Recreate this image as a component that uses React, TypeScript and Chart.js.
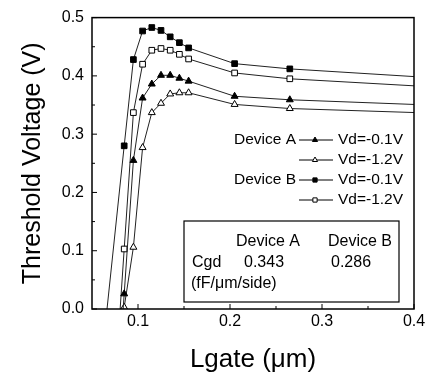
import React, { useEffect, useRef } from 'react';
import { Chart, registerables } from 'chart.js';

Chart.register(...registerables);

// ---- data ----
const lgateUm = [0.085, 0.095, 0.105, 0.115, 0.125, 0.135, 0.145, 0.155, 0.205, 0.265];
const vtA_Vd01 = [0.026, 0.255, 0.362, 0.386, 0.401, 0.401, 0.396, 0.391, 0.365, 0.359];
const vtA_Vd12 = [0.003, 0.106, 0.277, 0.337, 0.353, 0.369, 0.371, 0.371, 0.351, 0.344];
const vtB_Vd01 = [0.28, 0.428, 0.477, 0.483, 0.478, 0.467, 0.457, 0.448, 0.421, 0.412];
const vtB_Vd12 = [0.103, 0.337, 0.42, 0.444, 0.447, 0.444, 0.437, 0.429, 0.405, 0.395];

// lines continue beyond the frame on both ends (estimated, off-scale)
const leadLgate = [0.075, 0.075, 0.065, 0.075];
const leadVt = [-0.2, -0.1, -0.02, -0.13];
const tailLgate = [0.5, 0.5, 0.5, 0.5];
const tailVt = [0.345, 0.332, 0.389, 0.374];

const seriesNames = ['Device A Vd=-0.1V', 'Device A Vd=-1.2V', 'Device B Vd=-0.1V', 'Device B Vd=-1.2V'];
const legendGroups = ['Device A', '', 'Device B', ''];
const legendVd = ['Vd=-0.1V', 'Vd=-1.2V', 'Vd=-0.1V', 'Vd=-1.2V'];

const tableHeader = ['Device A', 'Device B'];
const tableRowLabel = 'Cgd';
const tableValues = ['0.343', '0.286'];
const tableUnit = '(fF/\u03bcm/side)';

const xMajor = [0.1, 0.2, 0.3, 0.4];
const xMinor = [0.15, 0.25, 0.35];
const yMajor = [0, 0.1, 0.2, 0.3, 0.4, 0.5];
const yMinor = [0.05, 0.15, 0.25, 0.35, 0.45];

const FONT = '"Liberation Sans", Arial, sans-serif';

const seriesValues = [vtA_Vd01, vtA_Vd12, vtB_Vd01, vtB_Vd12];
const markerStyles = [
  { style: 'triangle', fill: '#000' },
  { style: 'triangle', fill: '#fff' },
  { style: 'rect', fill: '#000' },
  { style: 'rect', fill: '#fff' },
];

function drawMarker(ctx: CanvasRenderingContext2D, kind: string, fill: string, cx: number, cy: number, r: number) {
  ctx.beginPath();
  if (kind === 'triangle') {
    const h = r * 1.5;
    const w = r * Math.sqrt(3);
    ctx.moveTo(cx, cy - r);
    ctx.lineTo(cx - w / 2, cy - r + h);
    ctx.lineTo(cx + w / 2, cy - r + h);
    ctx.closePath();
  } else {
    const s = r * Math.SQRT1_2;
    ctx.rect(cx - s, cy - s, 2 * s, 2 * s);
  }
  ctx.fillStyle = fill;
  ctx.fill();
  ctx.strokeStyle = '#000';
  ctx.lineWidth = 1;
  ctx.stroke();
}

const decorPlugin = {
  id: 'decor',
  afterDatasetsDraw(chart: any) {
    const { ctx, chartArea: a, scales } = chart;
    const x = scales.x;
    const y = scales.y;
    ctx.save();
    ctx.strokeStyle = '#000';
    ctx.lineWidth = 1;
    const seg = (x1: number, y1: number, x2: number, y2: number) => {
      ctx.beginPath();
      ctx.moveTo(x1, y1);
      ctx.lineTo(x2, y2);
      ctx.stroke();
    };
    for (const v of xMajor) {
      const p = x.getPixelForValue(v);
      seg(p, a.bottom, p, a.bottom - 5);
    }
    for (const v of xMinor) {
      const p = x.getPixelForValue(v);
      seg(p, a.bottom, p, a.bottom - 3);
    }
    for (const v of yMajor) {
      const p = y.getPixelForValue(v);
      seg(a.left, p, a.left + 5, p);
    }
    for (const v of yMinor) {
      const p = y.getPixelForValue(v);
      seg(a.left, p, a.left + 3, p);
    }
    ctx.lineWidth = 1.5;
    ctx.strokeRect(a.left, a.top, a.right - a.left, a.bottom - a.top);

    // legend
    ctx.font = '15.5px ' + FONT;
    ctx.textBaseline = 'middle';
    ctx.fillStyle = '#000';
    const rowY = [140, 160, 180, 200];
    for (let i = 0; i < 4; i++) {
      const ry = rowY[i];
      if (legendGroups[i]) {
        ctx.textAlign = 'right';
        ctx.fillStyle = '#000';
        ctx.fillText(legendGroups[i], 296, ry);
      }
      ctx.lineWidth = 1;
      ctx.strokeStyle = '#000';
      seg(299, ry, 333, ry);
      drawMarker(ctx, markerStyles[i].style, markerStyles[i].fill, 315, ry, 3);
      ctx.textAlign = 'left';
      ctx.fillStyle = '#000';
      ctx.fillText(legendVd[i], 338, ry);
    }

    // table box
    ctx.font = '16px ' + FONT;
    ctx.lineWidth = 1.2;
    ctx.strokeStyle = '#000';
    ctx.strokeRect(184, 221, 215, 81);
    ctx.fillStyle = '#000';
    ctx.textAlign = 'left';
    ctx.fillText(tableHeader[0], 236, 242);
    ctx.fillText(tableHeader[1], 328, 242);
    ctx.fillText(tableRowLabel, 192, 263);
    ctx.fillText(tableValues[0], 244, 263);
    ctx.fillText(tableValues[1], 331, 263);
    ctx.fillText(tableUnit, 191, 284);
    ctx.restore();
  },
};

export default function App() {
  const ref = useRef<HTMLCanvasElement | null>(null);
  useEffect(() => {
    if (!ref.current) return;
    const datasets = seriesValues.map((vals, i) => {
      const data = [
        { x: leadLgate[i], y: leadVt[i] },
        ...lgateUm.map((lx, j) => ({ x: lx, y: vals[j] })),
        { x: tailLgate[i], y: tailVt[i] },
      ];
      const radii = data.map((_, j) => (j === 0 || j === data.length - 1 ? 0 : 4));
      return {
        label: seriesNames[i],
        data,
        borderColor: '#222',
        borderWidth: 1,
        pointStyle: markerStyles[i].style,
        pointRadius: radii,
        pointBackgroundColor: markerStyles[i].fill,
        pointBorderColor: '#000',
        pointBorderWidth: 1,
        tension: 0,
        fill: false,
      };
    });
    const chart = new Chart(ref.current, {
      type: 'line',
      data: { datasets },
      options: {
        animation: false,
        responsive: false,
        events: [],
        layout: { padding: { top: 15, right: 17, left: 0, bottom: 0 } },
        plugins: { legend: { display: false }, tooltip: { enabled: false } },
        scales: {
          x: {
            type: 'linear',
            min: 0.05,
            max: 0.4,
            grid: { display: false, drawTicks: false },
            border: { display: false },
            afterBuildTicks: (s: any) => {
              s.ticks = xMajor.map((v) => ({ value: v }));
            },
            afterFit: (s: any) => {
              s.height = 78;
            },
            ticks: {
              padding: 3,
              color: '#000',
              font: { family: FONT, size: 16 },
              callback: (v: any) => Number(v).toFixed(1),
            },
            title: {
              display: true,
              text: 'Lgate (\u03bcm)',
              color: '#000',
              font: { family: FONT, size: 26 },
              padding: { top: 0, bottom: 12 },
            },
          },
          y: {
            type: 'linear',
            min: 0,
            max: 0.5,
            grid: { display: false, drawTicks: false },
            border: { display: false },
            afterBuildTicks: (s: any) => {
              s.ticks = yMajor.map((v) => ({ value: v }));
            },
            afterFit: (s: any) => {
              s.width = 92;
            },
            ticks: {
              padding: 8,
              color: '#000',
              font: { family: FONT, size: 16 },
              callback: (v: any) => Number(v).toFixed(1),
            },
            title: {
              display: true,
              text: 'Threshold Voltage (V)',
              color: '#000',
              font: { family: FONT, size: 25 },
              padding: { top: 18, bottom: 0 },
            },
          },
        },
      },
      plugins: [decorPlugin],
    });
    return () => chart.destroy();
  }, []);
  return (
    <div style={{ position: 'absolute', left: 0, top: 0, width: 431, height: 387, background: '#fff' }}>
      <canvas ref={ref} width={431} height={387} style={{ width: 431, height: 387, display: 'block' }} />
    </div>
  );
}
